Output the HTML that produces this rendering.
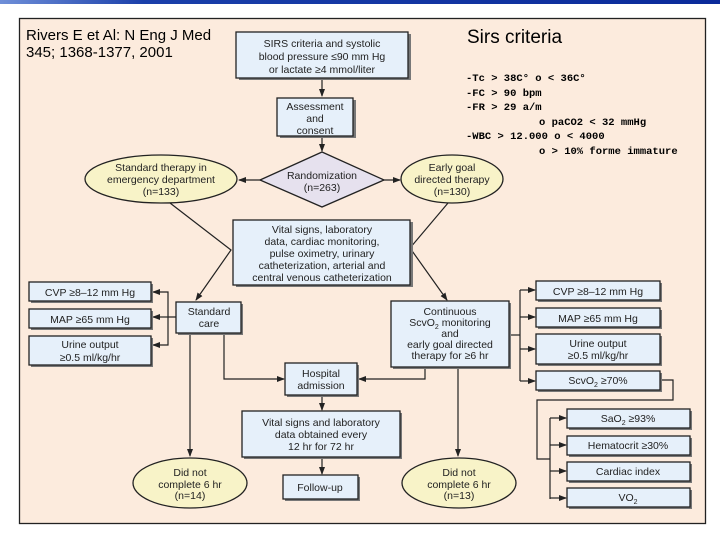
<!DOCTYPE html>
<html><head><meta charset="utf-8"><style>
html,body{margin:0;padding:0;background:#fff;}
svg{display:block;font-family:"Liberation Sans",sans-serif;}
.b{fill:#e6f0fa;stroke:#222;stroke-width:1.3;}
.e{fill:#f8f3c8;stroke:#222;stroke-width:1.3;}
.s{fill:#777;}
.t{font-size:10.5px;fill:#222;text-anchor:middle;}
.l{stroke:#222;stroke-width:1.2;fill:none;}
</style></head><body>
<svg width="720" height="540" viewBox="0 0 720 540">
<defs>
<linearGradient id="g" x1="0" x2="1"><stop offset="0" stop-color="#6f8fd8"/><stop offset="0.2" stop-color="#1a3faa"/><stop offset="1" stop-color="#0a2a9a"/></linearGradient>
<marker id="a" markerWidth="8" markerHeight="8" refX="7" refY="4" orient="auto" markerUnits="userSpaceOnUse"><path d="M0,1 L8,4 L0,7 Z" fill="#222"/></marker>
</defs>
<rect x="0" y="0" width="720" height="4" fill="url(#g)"/>
<rect x="19.5" y="18.5" width="686" height="505" fill="#fcebdd" stroke="#222" stroke-width="1.3"/>
<text x="26" y="40" font-size="15" fill="#000">Rivers E et Al: N Eng J Med</text>
<text x="26" y="57" font-size="15" fill="#000">345; 1368-1377, 2001</text>
<text x="467" y="43" font-size="19" fill="#000">Sirs criteria</text>
<g font-size="10.5" font-weight="bold" font-family="Liberation Mono,monospace" fill="#000">
<text x="466" y="81">-Tc &gt; 38C° o &lt; 36C°</text>
<text x="466" y="96">-FC &gt; 90 bpm</text>
<text x="466" y="110">-FR &gt; 29 a/m</text>
<text x="539" y="125">o paCO2 &lt; 32 mmHg</text>
<text x="466" y="139">-WBC &gt; 12.000 o &lt; 4000</text>
<text x="539" y="154">o &gt; 10% forme immature</text>
</g>
<g class="l">
<path d="M322,79 V96" marker-end="url(#a)"/>
<path d="M322,137 V151" marker-end="url(#a)"/>
<path d="M262,180 H239" marker-end="url(#a)"/>
<path d="M382,180 H400" marker-end="url(#a)"/>
<path d="M170,203 L231,250 L196,300" marker-end="url(#a)"/>
<path d="M448,203 L410,248 L447,300" marker-end="url(#a)"/>
<path d="M176,317 H168 V292 H153" marker-end="url(#a)"/>
<path d="M168,317 H153" marker-end="url(#a)"/>
<path d="M168,317 V345 H153" marker-end="url(#a)"/>
<path d="M190,334 V456" marker-end="url(#a)"/>
<path d="M224,334 V379 H284" marker-end="url(#a)"/>
<path d="M425,368 V379 H359" marker-end="url(#a)"/>
<path d="M322,396 V410" marker-end="url(#a)"/>
<path d="M322,458 V474" marker-end="url(#a)"/>
<path d="M458,368 V456" marker-end="url(#a)"/>
<path d="M510,335 H520"/>
<path d="M520,290 V381"/>
<path d="M520,290 H535" marker-end="url(#a)"/>
<path d="M520,317 H535" marker-end="url(#a)"/>
<path d="M520,349 H535" marker-end="url(#a)"/>
<path d="M520,381 H535" marker-end="url(#a)"/>
<path d="M661,380 H673 V400 H537 V459 H550"/>
<path d="M550,418 V499"/>
<path d="M550,418 H566" marker-end="url(#a)"/>
<path d="M550,445 H566" marker-end="url(#a)"/>
<path d="M550,471 H566" marker-end="url(#a)"/>
<path d="M550,498 H566" marker-end="url(#a)"/>
</g>
<g>
<rect class="s" x="239" y="34" width="172" height="46"/><rect class="b" x="236" y="32" width="172" height="46"/>
<text class="t" x="322" y="47">SIRS criteria and systolic</text><text class="t" x="322" y="60">blood pressure ≤90 mm Hg</text><text class="t" x="322" y="73">or lactate ≥4 mmol/liter</text>
<rect class="s" x="280" y="100" width="76" height="38"/><rect class="b" x="277" y="98" width="76" height="38"/>
<text class="t" x="315" y="110">Assessment</text><text class="t" x="315" y="122">and</text><text class="t" x="315" y="134">consent</text>
<path d="M322,152 L384,180 L322,207 L260,180 Z" fill="#e6e1ee" stroke="#222" stroke-width="1.3"/>
<text class="t" x="322" y="179">Randomization</text><text class="t" x="322" y="191">(n=263)</text>
<ellipse class="e" cx="161" cy="179" rx="76" ry="24"/>
<text class="t" x="161" y="171">Standard therapy in</text><text class="t" x="161" y="183">emergency department</text><text class="t" x="161" y="195">(n=133)</text>
<ellipse class="e" cx="452" cy="179" rx="51" ry="24"/>
<text class="t" x="452" y="171">Early goal</text><text class="t" x="452" y="183">directed therapy</text><text class="t" x="452" y="195">(n=130)</text>
<rect class="s" x="236" y="222" width="177" height="65"/><rect class="b" x="233" y="220" width="177" height="65"/>
<text class="t" x="322" y="233">Vital signs, laboratory</text><text class="t" x="322" y="245">data, cardiac monitoring,</text><text class="t" x="322" y="257">pulse oximetry, urinary</text><text class="t" x="322" y="269">catheterization, arterial and</text><text class="t" x="322" y="281">central venous catheterization</text>
<rect class="s" x="31" y="284" width="122" height="19"/><rect class="b" x="29" y="282" width="122" height="19"/><text class="t" x="90" y="296">CVP ≥8–12 mm Hg</text>
<rect class="s" x="31" y="311" width="122" height="19"/><rect class="b" x="29" y="309" width="122" height="19"/><text class="t" x="90" y="323">MAP ≥65 mm Hg</text>
<rect class="s" x="31" y="338" width="122" height="29"/><rect class="b" x="29" y="336" width="122" height="29"/><text class="t" x="90" y="348">Urine output</text><text class="t" x="90" y="361">≥0.5 ml/kg/hr</text>
<rect class="s" x="178" y="304" width="65" height="31"/><rect class="b" x="176" y="302" width="65" height="31"/><text class="t" x="209" y="315">Standard</text><text class="t" x="209" y="327">care</text>
<rect class="s" x="393" y="303" width="118" height="66"/><rect class="b" x="391" y="301" width="118" height="66"/>
<text class="t" x="450" y="315">Continuous</text><text class="t" x="450" y="326">ScvO<tspan font-size="7" dy="3">2</tspan><tspan dy="-3"> monitoring</tspan></text><text class="t" x="450" y="337">and</text><text class="t" x="450" y="348">early goal directed</text><text class="t" x="450" y="359">therapy for ≥6 hr</text>
<rect class="s" x="538" y="283" width="124" height="19"/><rect class="b" x="536" y="281" width="124" height="19"/><text class="t" x="598" y="295">CVP ≥8–12 mm Hg</text>
<rect class="s" x="538" y="310" width="124" height="19"/><rect class="b" x="536" y="308" width="124" height="19"/><text class="t" x="598" y="322">MAP ≥65 mm Hg</text>
<rect class="s" x="538" y="336" width="124" height="30"/><rect class="b" x="536" y="334" width="124" height="30"/><text class="t" x="598" y="347">Urine output</text><text class="t" x="598" y="359">≥0.5 ml/kg/hr</text>
<rect class="s" x="538" y="373" width="124" height="19"/><rect class="b" x="536" y="371" width="124" height="19"/><text class="t" x="598" y="384">ScvO<tspan font-size="7" dy="3">2</tspan><tspan dy="-3"> ≥70%</tspan></text>
<rect class="s" x="287" y="365" width="72" height="32"/><rect class="b" x="285" y="363" width="72" height="32"/><text class="t" x="321" y="377">Hospital</text><text class="t" x="321" y="389">admission</text>
<rect class="s" x="244" y="413" width="158" height="46"/><rect class="b" x="242" y="411" width="158" height="46"/><text class="t" x="321" y="426">Vital signs and laboratory</text><text class="t" x="321" y="438">data obtained every</text><text class="t" x="321" y="450">12 hr for 72 hr</text>
<rect class="s" x="285" y="477" width="75" height="24"/><rect class="b" x="283" y="475" width="75" height="24"/><text class="t" x="320" y="491">Follow-up</text>
<ellipse class="e" cx="190" cy="483" rx="57" ry="25"/><text class="t" x="190" y="476">Did not</text><text class="t" x="190" y="488">complete 6 hr</text><text class="t" x="190" y="499">(n=14)</text>
<ellipse class="e" cx="459" cy="483" rx="57" ry="25"/><text class="t" x="459" y="476">Did not</text><text class="t" x="459" y="488">complete 6 hr</text><text class="t" x="459" y="499">(n=13)</text>
<rect class="s" x="569" y="411" width="123" height="19"/><rect class="b" x="567" y="409" width="123" height="19"/><text class="t" x="628" y="422">SaO<tspan font-size="7" dy="3">2</tspan><tspan dy="-3"> ≥93%</tspan></text>
<rect class="s" x="569" y="438" width="123" height="19"/><rect class="b" x="567" y="436" width="123" height="19"/><text class="t" x="628" y="449">Hematocrit ≥30%</text>
<rect class="s" x="569" y="464" width="123" height="19"/><rect class="b" x="567" y="462" width="123" height="19"/><text class="t" x="628" y="475">Cardiac index</text>
<rect class="s" x="569" y="490" width="123" height="19"/><rect class="b" x="567" y="488" width="123" height="19"/><text class="t" x="628" y="501">VO<tspan font-size="7" dy="3">2</tspan></text>
</g>
</svg>
</body></html>
